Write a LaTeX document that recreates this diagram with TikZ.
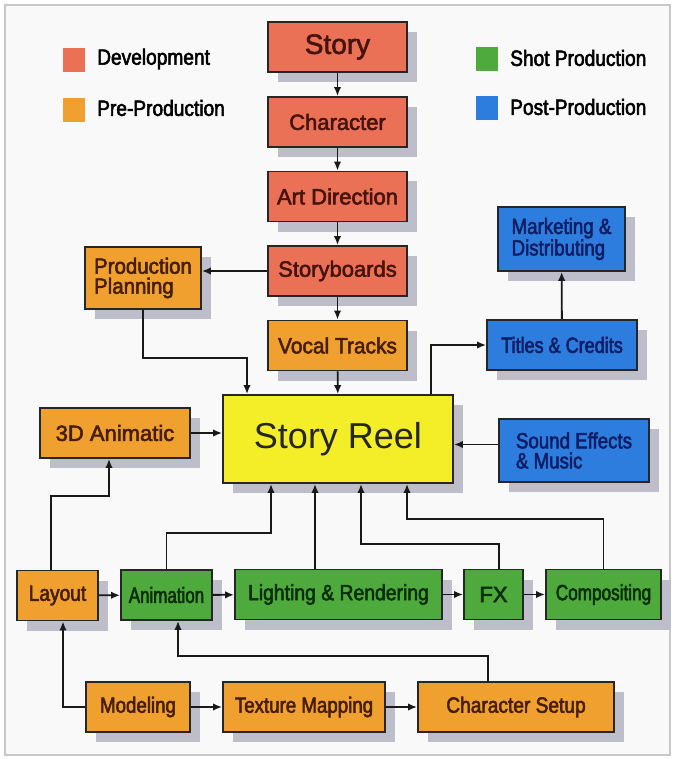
\documentclass[tikz,border=0pt]{standalone}
\usepackage{fontspec}
\setmainfont{Liberation Sans}
\usetikzlibrary{arrows,arrows.meta,shadows}

\definecolor{devcol}{RGB}{234,112,86}
\definecolor{precol}{RGB}{240,160,46}
\definecolor{shotcol}{RGB}{78,170,60}
\definecolor{postcol}{RGB}{45,125,222}
\definecolor{reelcol}{RGB}{244,238,40}
\definecolor{shadecol}{RGB}{190,190,202}
\definecolor{devtxt}{RGB}{70,20,12}
\definecolor{pretxt}{RGB}{70,30,5}
\definecolor{shottxt}{RGB}{10,45,10}
\definecolor{posttxt}{RGB}{15,30,100}
\definecolor{framecol}{RGB}{200,200,200}
\definecolor{bgcol}{RGB}{249,249,249}

\begin{document}
\begin{tikzpicture}[x=1pt, y=-1pt,
  stage/.style={draw=black!85, line width=1.8pt, inner sep=0pt, minimum height=50pt, align=center,
    squeeze=1,
    drop shadow={shadow xshift=10pt, shadow yshift=-10pt, fill=shadecol, opacity=1}},
  squeeze/.style={font=\fontsize{22}{20}\selectfont\addfontfeatures{FakeStretch=#1,FakeBold=2.5}},
  dev/.style={stage, fill=devcol, text=devtxt},
  pre/.style={stage, fill=precol, text=pretxt},
  shot/.style={stage, fill=shotcol, text=shottxt},
  post/.style={stage, fill=postcol, text=posttxt},
  key/.style={minimum width=22pt, minimum height=24pt, inner sep=0pt},
  keytext/.style={anchor=west, inner sep=0pt, squeeze=0.87},
  arr/.style={line width=1.8pt, draw=black!90, -{Latex[length=9pt,width=7.5pt]}},
]
\useasboundingbox (0,0) rectangle (674,759);
\draw [framecol, line width=1.5pt, fill=bgcol] (5,5) rectangle (670,755);

% legend
\node [key, fill=devcol] (devkey) at (74,60) {};
\node [keytext] (devlabel) at (97,59) {Development};
\node [key, fill=precol] (prekey) at (74,110) {};
\node [keytext] (prelabel) at (97,108) {Pre-Production};
\node [key, fill=shotcol] (shotkey) at (487,59) {};
\node [keytext] (shotlabel) at (510,58) {Shot Production};
\node [key, fill=postcol] (postkey) at (487,108) {};
\node [keytext] (postlabel) at (510,107) {Post-Production};

% development and pre-production column
\node [dev, minimum width=139pt, font=\fontsize{28}{30}\selectfont\addfontfeatures{FakeBold=2}] (story) at (337.5,47) {Story};
\node [dev, minimum width=139pt] (character) at (337.5,122) {Character};
\node [dev, minimum width=139pt] (artdir) at (337.5,196.5) {Art Direction};
\node [dev, minimum width=139pt] (storyboards) at (337.5,271) {Storyboards};
\node [pre, minimum width=139pt, squeeze=0.95] (vocal) at (337.5,345.5) {Vocal Tracks};
\node [pre, minimum width=116pt, minimum height=62pt, align=left, squeeze=0.93] (planning) at (143,278) {Production\\Planning};
\node [pre, minimum width=150pt] (animatic) at (115,433) {3D Animatic};

% post-production
\node [post, minimum width=127pt, minimum height=64pt, align=left, squeeze=0.85] (marketing) at (561.5,239) {Marketing \&\\Distributing};
\node [post, minimum width=150pt, squeeze=0.82] (titles) at (562,345) {Titles \& Credits};
\node [post, minimum width=150pt, minimum height=63pt, align=left, squeeze=0.85] (sound) at (574,450.5) {Sound Effects\\\& Music};

\node [stage, fill=reelcol, text=black!85, minimum width=230pt, minimum height=88pt, font=\fontsize{36}{38}\selectfont] (reel) at (338,439) {Story Reel};

% shot production row
\node [pre, minimum width=81pt, squeeze=0.87] (layout) at (57.5,595.5) {Layout};
\node [shot, minimum width=91pt, squeeze=0.77] (animation) at (166.5,595) {Animation};
\node [shot, minimum width=207pt, squeeze=0.88] (lighting) at (338.5,594.5) {Lighting \& Rendering};
\node [shot, minimum width=59pt] (fx) at (493.5,594.5) {FX};
\node [shot, minimum width=115pt, squeeze=0.78] (compositing) at (603.5,594.5) {Compositing};

% asset row
\node [pre, minimum width=104pt, squeeze=0.85] (modeling) at (138,707) {Modeling};
\node [pre, minimum width=162pt, squeeze=0.85] (texture) at (304,707) {Texture Mapping};
\node [pre, minimum width=196pt, squeeze=0.87] (charsetup) at (516,707) {Character Setup};

\draw [arr] (story) -- (character);
\draw [arr] (character) -- (artdir);
\draw [arr] (artdir) -- (storyboards);
\draw [arr] (storyboards) -- (vocal);
\draw [arr] (vocal) -- (reel);
\draw [arr] (storyboards.west) -- (storyboards.west -| planning.east);

\coordinate (ppturn) at (247,358);
\draw [arr] (planning.south) |- (ppturn) -- (ppturn |- reel.north);
\coordinate (tcturn) at (431,345);
\draw [arr] (reel.north -| tcturn) -- (tcturn) -- (titles.west);
\draw [arr] (titles) -- (marketing);
\draw [arr] (animatic.east) -- (animatic.east -| reel.west);
\draw [arr] ([yshift=6pt]sound.west) -- ([yshift=6pt]sound.west -| reel.east);

\coordinate (lyturn) at (109,496);
\draw [arr] ([xshift=-6.5pt]layout.north) |- (lyturn) -- (lyturn |- animatic.south);
\draw [arr] (layout) -- (animation);
\draw [arr] (animation) -- (lighting);
\draw [arr] (lighting) -- (fx);
\draw [arr] (fx) -- (compositing);

\coordinate (anturn) at (271,533);
\draw [arr] (animation.north) |- (anturn) -- (anturn |- reel.south);
\draw [arr] ([xshift=-23.5pt]lighting.north) -- ([xshift=-23pt]reel.south);
\coordinate (fxturn) at (361,544);
\draw [arr] ([xshift=5.5pt]fx.north) |- (fxturn) -- (fxturn |- reel.south);
\coordinate (coturn) at (407,519);
\draw [arr] (compositing.north) |- (coturn) -- (coturn |- reel.south);

\draw [arr] (modeling.west) -| ([xshift=5.5pt]layout.south);
\draw [arr] (modeling) -- (texture);
\draw [arr] (texture) -- (charsetup);
\coordinate (csturn) at (178,656);
\draw [arr] ([xshift=-28pt]charsetup.north) |- (csturn) -- (csturn |- animation.south);

\end{tikzpicture}
\end{document}
